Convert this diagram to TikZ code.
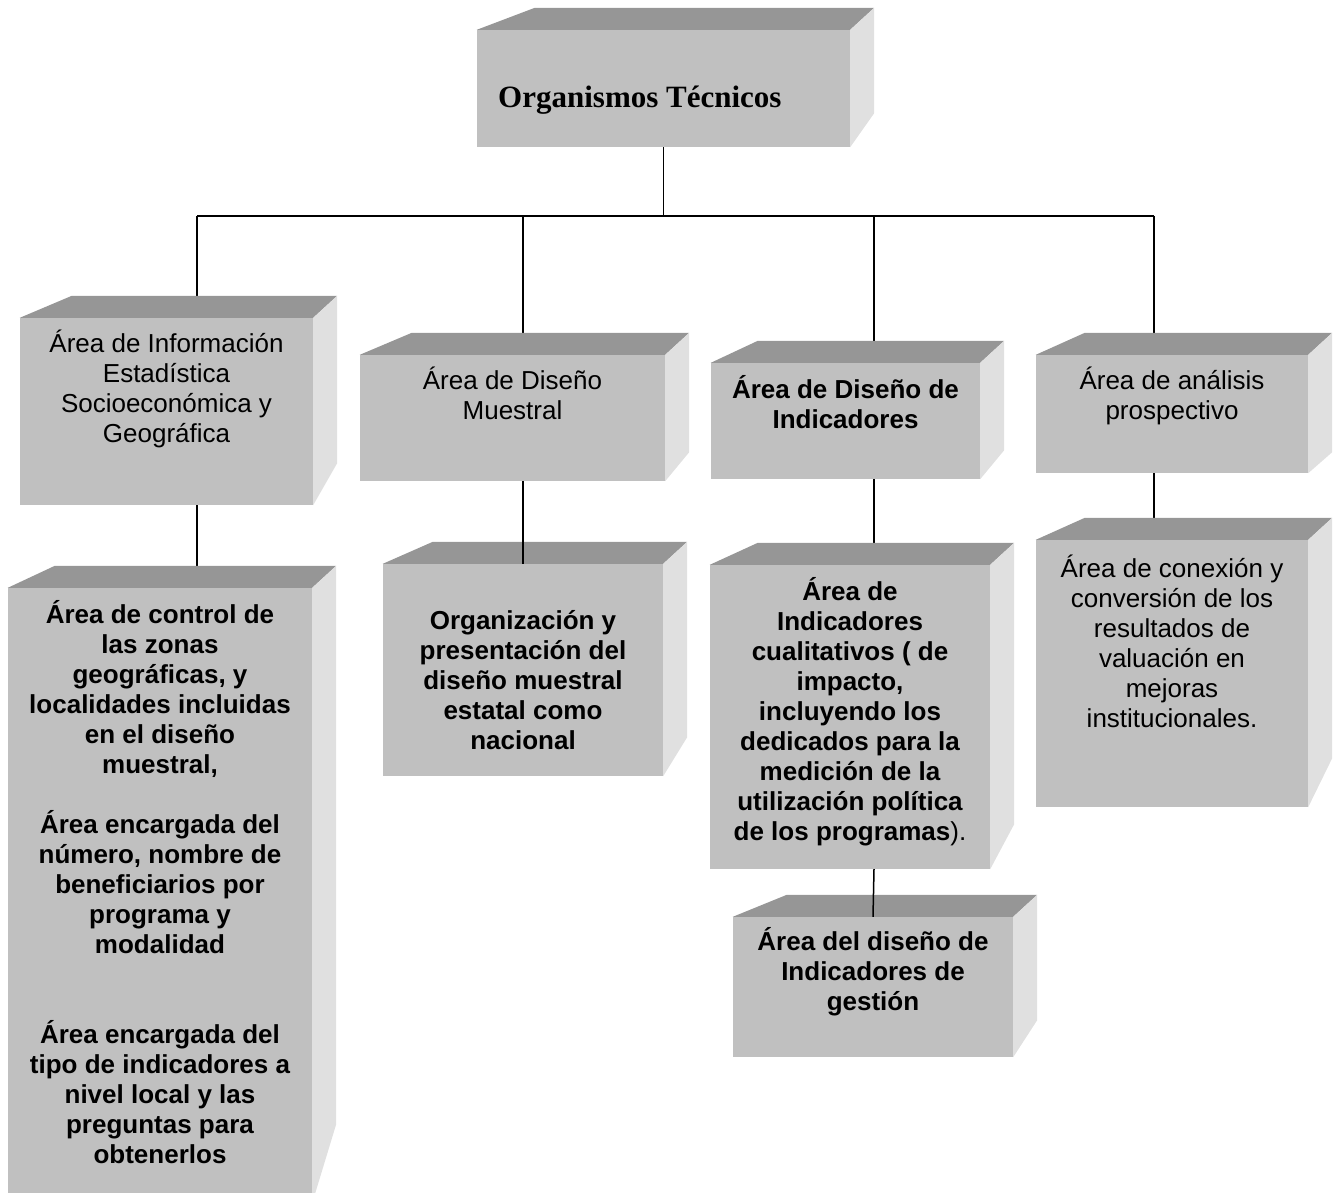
\documentclass[tikz,border=0pt]{standalone}
\usepackage{fontspec}
\setmainfont{Liberation Sans}
\newfontfamily\titulofont{Liberation Serif}
\usetikzlibrary{positioning}

\definecolor{frontal}{HTML}{C0C0C0}
\definecolor{superior}{HTML}{969696}
\definecolor{lateral}{HTML}{E0E0E0}

% caras de arriba y de la derecha de una caja
\newcommand{\caras}[3]{%
  \fill[superior] (#1.north west) -- ++(#2,-22) -- ([shift={(24,-22)}]#1.north east) -- (#1.north east) -- cycle;
  \fill[lateral] (#1.north east) -- ++(24,-22) -- ([shift={(24,-#3)}]#1.south east) -- (#1.south east) -- cycle;
}

\begin{document}
\begin{tikzpicture}
    [
      x=1pt, y=-1pt,
      frente/.style={rectangle, fill=frontal, inner sep=0pt},
      texto/.style={align=center, inner sep=0pt, font=\fontsize{26}{30}\selectfont},
      negrita/.style={texto, font=\fontsize{26}{30}\selectfont\bfseries},
      linea/.style={line width=1.5pt, black},
      node distance= 1cm and 2cm
    ]
    \clip (0,0) rectangle (1341,1193);

    \coordinate (busA) at (197,216);
    \coordinate (busB) at (523,216);
    \coordinate (busC) at (874,216);
    \coordinate (busD) at (1154,216);

    \node (top) [frente, minimum width=373pt, minimum height=117pt] at (663.5,88.5) {};
    \node (A) [frente, minimum width=293pt, minimum height=187pt] at (166.5,411.5) {};
    \node (B) [frente, minimum width=305pt, minimum height=126pt] at (512.5,418) {};
    \node (C) [frente, minimum width=269pt, minimum height=116pt] at (845.5,421) {};
    \node (D) [frente, minimum width=272pt, minimum height=118pt] at (1172,414) {};
    \node (A2) [frente, minimum width=304pt, minimum height=615pt] at (160,895.5) {};
    \node (B2) [frente, minimum width=280pt, minimum height=212pt] at (523,670) {};
    \node (C2) [frente, minimum width=280pt, minimum height=304pt] at (850,717) {};
    \node (C3) [frente, minimum width=280pt, minimum height=140pt] at (873,987) {};
    \node (D2) [frente, minimum width=272pt, minimum height=267pt] at (1172,673.5) {};

    \path
    (busA) edge [linea] (busD)
    (top.south) edge [linea] (top.south |- busA)
    (busA) edge [linea] (busA |- A.north)
    (busB) edge [linea] (busB |- B.north)
    (busC) edge [linea] (busC |- C.north)
    (busD) edge [linea] (busD |- D.north)
    (A.south -| busA) edge [linea] (A2.north -| busA)
    (C.south -| busC) edge [linea] (C2.north -| busC)
    (D.south -| busD) edge [linea] (D2.north -| busD)
    ;

    \caras{top}{58}{34}
    \caras{A}{52}{42}
    \caras{B}{52}{29}
    \caras{C}{47}{29}
    \caras{D}{49}{21}
    \caras{A2}{47}{79}
    \caras{B2}{50}{39}
    \caras{C2}{48}{45}
    \caras{C3}{54}{37}
    \caras{D2}{49}{49}

    \path
    (B.south -| busB) edge [linea] (B2.north)
    (C2.south -| busC) edge [linea] (C3.north)
    ;

    \node (titulo) [anchor=base west, inner sep=0pt, font=\titulofont\bfseries\fontsize{31}{36}\selectfont] at (498,108) {Organismos Técnicos};

    \node (tA) [texto, below=12pt of A.north] {Área de Información\\Estadística\\Socioeconómica y\\Geográfica};
    \node (tB) [texto, below=12pt of B.north] {Área de Diseño\\Muestral};
    \node (tC) [negrita, below=12pt of C.north] {Área de Diseño de\\Indicadores};
    \node (tD) [texto, below=12pt of D.north] {Área de análisis\\prospectivo};

    \node (tA2) [negrita, below=12pt of A2.north] {Área de control de\\las zonas\\geográficas, y\\localidades incluidas\\en el diseño\\muestral,\\[30pt]
      Área encargada del\\número, nombre de\\beneficiarios por\\programa y\\modalidad\\[60pt]
      Área encargada del\\tipo de indicadores a\\nivel local y las\\preguntas para\\obtenerlos};
    \node (tB2) [negrita, below=46pt of B2.north] {Organización y\\presentación del\\diseño muestral\\estatal como\\nacional};
    \node (tC2) [negrita, below=12pt of C2.north] {Área de\\Indicadores\\cualitativos ( de\\impacto,\\incluyendo los\\dedicados para la\\medición de la\\utilización política\\de los programas{\mdseries ).}};
    \node (tC3) [negrita, below=10pt of C3.north] {Área del diseño de\\Indicadores de\\gestión};
    \node (tD2) [texto, below=15pt of D2.north] {Área de conexión y\\conversión de los\\resultados de\\valuación en\\mejoras\\institucionales.};

  \end{tikzpicture}
\end{document}
